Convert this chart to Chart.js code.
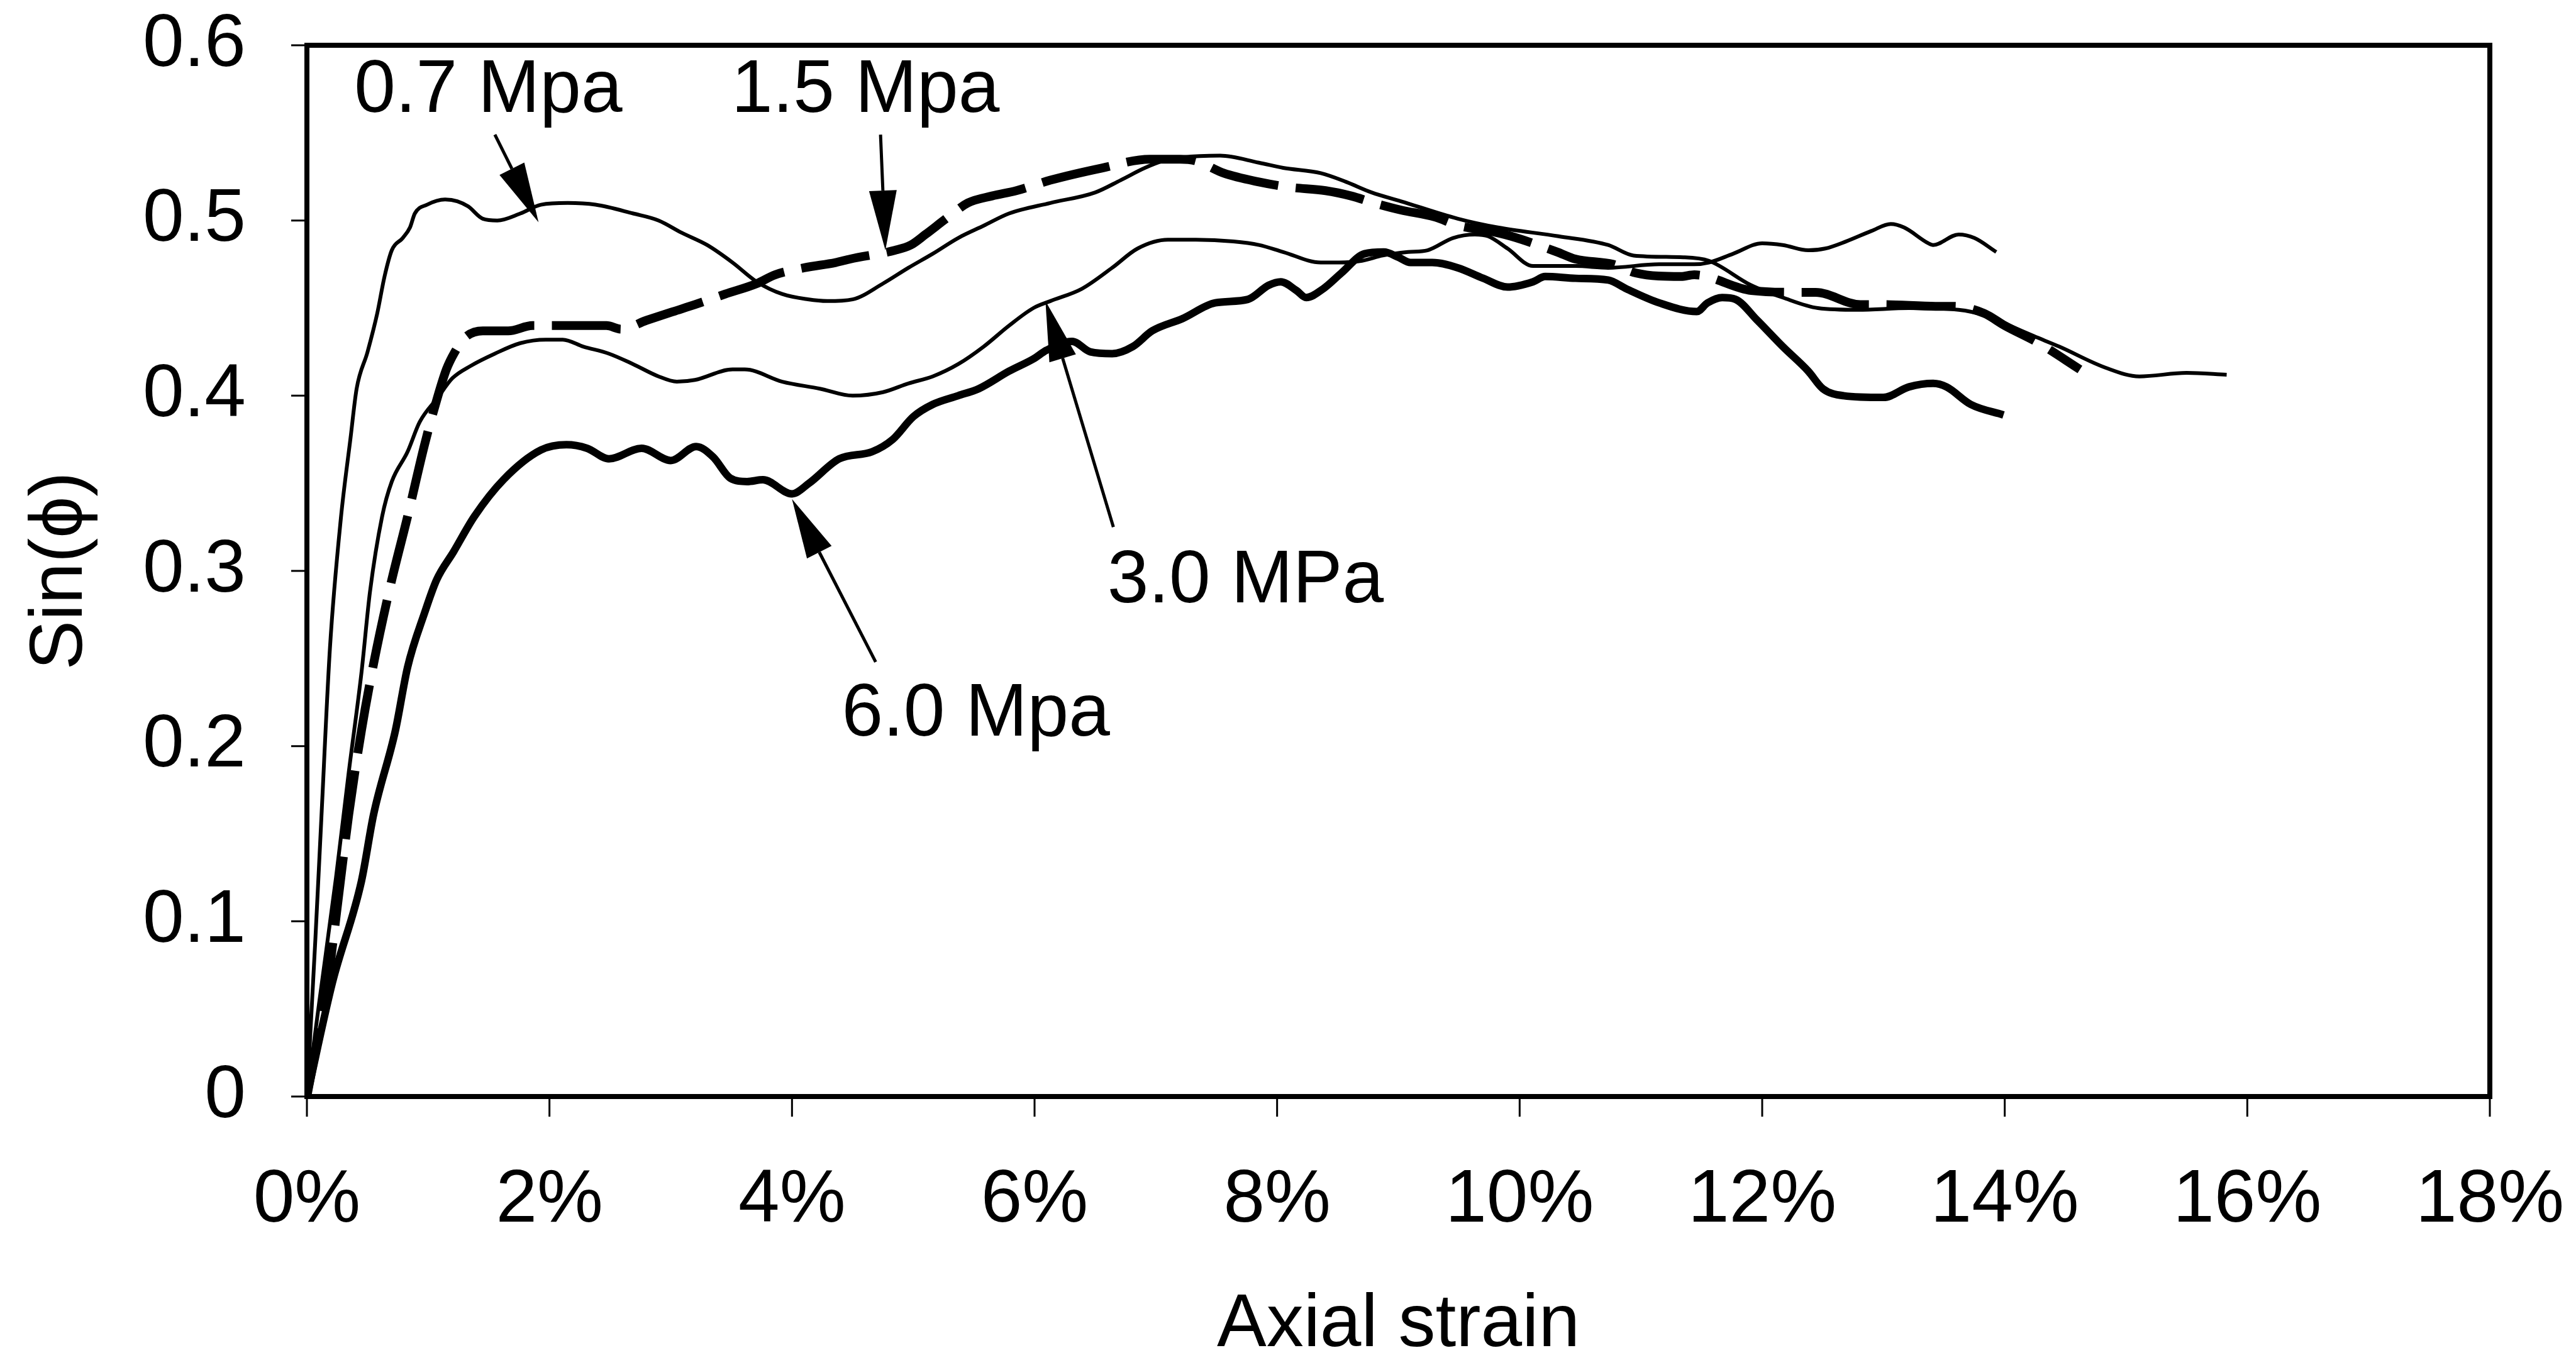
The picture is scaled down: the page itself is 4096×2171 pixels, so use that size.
<!DOCTYPE html>
<html>
<head>
<meta charset="utf-8">
<script src="https://cdn.jsdelivr.net/npm/chart.js@4.4.1/dist/chart.umd.min.js"></script>
<style>
  html, body { margin: 0; padding: 0; background: #fff; }
  #wrap { width: 4096px; height: 2171px; position: relative; }
</style>
</head>
<body>
<div id="wrap"><canvas id="chart-sin"></canvas></div>
<script>
// values: axial strain in %, sin(phi)
const strain07 = [0, 0.07, 0.12, 0.19, 0.28, 0.36, 0.41, 0.5, 0.58, 0.64, 0.7, 0.79, 0.85, 0.89, 0.99, 1.14, 1.24, 1.33, 1.45, 1.57, 1.76, 1.93, 2.15, 2.38, 2.69, 2.9, 3.09, 3.3, 3.51, 3.71, 3.92, 4.13, 4.29, 4.5, 4.75, 4.96, 5.16, 5.37, 5.58, 5.79, 6.13, 6.5, 6.71, 6.91, 7.06, 7.22, 7.53, 7.85, 8.05, 8.36, 8.57, 8.78, 9.02, 9.49, 9.82, 10.32, 10.73, 10.94, 11.35, 11.56, 11.91, 12.17, 12.46, 12.79, 13.21, 13.62, 13.83, 14.04, 14.24, 14.45, 14.83, 15.11, 15.5, 15.83];
const sin07 = [0, 0.09, 0.16, 0.256, 0.33, 0.376, 0.404, 0.425, 0.447, 0.468, 0.483, 0.49, 0.496, 0.504, 0.509, 0.512, 0.511, 0.508, 0.501, 0.5, 0.504, 0.509, 0.51, 0.509, 0.504, 0.5, 0.493, 0.486, 0.476, 0.465, 0.458, 0.455, 0.454, 0.455, 0.464, 0.473, 0.481, 0.49, 0.497, 0.504, 0.51, 0.516, 0.523, 0.53, 0.534, 0.536, 0.537, 0.533, 0.53, 0.527, 0.522, 0.516, 0.511, 0.501, 0.496, 0.491, 0.486, 0.48, 0.479, 0.477, 0.463, 0.456, 0.45, 0.449, 0.45, 0.449, 0.446, 0.44, 0.434, 0.428, 0.416, 0.411, 0.413, 0.412];

const strain15 = [0, 0.17, 0.28, 0.345, 0.45, 0.55, 0.69, 0.83, 0.97, 1.06, 1.15, 1.22, 1.3, 1.45, 1.66, 1.86, 2.2, 2.47, 2.59, 2.8, 3.02, 3.2, 3.45, 3.71, 3.86, 4.1, 4.36, 4.48, 4.85, 4.98, 5.1, 5.27, 5.45, 5.65, 5.85, 6.13, 6.56, 6.95, 7.2, 7.33, 7.56, 7.85, 8.1, 8.4, 8.61, 8.8, 9.02, 9.3, 9.5, 9.75, 9.93, 10.31, 10.46, 10.77, 10.96, 11.33, 11.44, 11.91, 12.3, 12.44, 12.81, 13.0, 13.43, 13.58, 13.83, 14.0, 14.28, 14.62];
const sin15 = [0, 0.065, 0.125, 0.161, 0.209, 0.247, 0.292, 0.331, 0.372, 0.395, 0.415, 0.425, 0.433, 0.437, 0.437, 0.44, 0.44, 0.44, 0.438, 0.443, 0.448, 0.452, 0.458, 0.464, 0.469, 0.473, 0.476, 0.478, 0.483, 0.486, 0.492, 0.501, 0.51, 0.514, 0.517, 0.523, 0.53, 0.535, 0.535, 0.534, 0.527, 0.522, 0.519, 0.517, 0.514, 0.51, 0.506, 0.502, 0.497, 0.494, 0.491, 0.482, 0.478, 0.475, 0.47, 0.468, 0.469, 0.46, 0.459, 0.459, 0.452, 0.452, 0.451, 0.451, 0.447, 0.44, 0.43, 0.415];

const strain30 = [0, 0.1, 0.24, 0.345, 0.45, 0.52, 0.62, 0.7, 0.83, 0.93, 1.08, 1.2, 1.35, 1.55, 1.76, 1.97, 2.11, 2.28, 2.49, 2.69, 2.9, 3.05, 3.2, 3.51, 3.61, 3.92, 4.23, 4.5, 4.75, 4.96, 5.16, 5.37, 5.58, 5.79, 5.99, 6.13, 6.39, 6.64, 6.85, 7.1, 7.33, 7.64, 7.85, 8.05, 8.36, 8.51, 8.7, 8.87, 9.08, 9.24, 9.45, 9.63, 9.74, 9.9, 10.11, 10.46, 10.73, 11.15, 11.44, 11.56, 11.76, 12.0, 12.17, 12.38, 12.52, 12.69, 12.9, 13.06, 13.17, 13.37, 13.41, 13.62, 13.75, 13.93];
const sin30 = [0, 0.053, 0.125, 0.185, 0.242, 0.288, 0.331, 0.351, 0.368, 0.385, 0.399, 0.41, 0.417, 0.424, 0.43, 0.432, 0.432, 0.428, 0.424, 0.418, 0.411, 0.408, 0.409, 0.415, 0.415, 0.408, 0.404, 0.4, 0.402, 0.407, 0.411, 0.418, 0.428, 0.44, 0.45, 0.454, 0.461, 0.473, 0.484, 0.489, 0.489, 0.488, 0.486, 0.482, 0.476, 0.476, 0.477, 0.48, 0.482, 0.483, 0.49, 0.492, 0.491, 0.484, 0.474, 0.474, 0.473, 0.475, 0.475, 0.476, 0.481, 0.487, 0.486, 0.483, 0.484, 0.488, 0.494, 0.498, 0.496, 0.487, 0.486, 0.492, 0.49, 0.482];

const strain60 = [0, 0.21, 0.45, 0.55, 0.73, 0.83, 0.97, 1.07, 1.21, 1.38, 1.62, 1.93, 2.14, 2.31, 2.49, 2.76, 3.0, 3.21, 3.35, 3.49, 3.63, 3.76, 4.0, 4.14, 4.39, 4.66, 4.83, 5.0, 5.16, 5.37, 5.54, 5.79, 5.99, 6.1, 6.31, 6.46, 6.64, 6.81, 6.97, 7.22, 7.49, 7.76, 7.93, 8.03, 8.16, 8.24, 8.38, 8.53, 8.72, 8.88, 9.0, 9.1, 9.28, 9.49, 9.7, 9.9, 10.11, 10.21, 10.46, 10.73, 10.88, 11.15, 11.46, 11.55, 11.67, 11.78, 11.96, 12.17, 12.38, 12.5, 12.67, 13.0, 13.21, 13.41, 13.52, 13.72, 13.99];
const sin60 = [0, 0.065, 0.123, 0.161, 0.209, 0.245, 0.276, 0.295, 0.311, 0.331, 0.352, 0.369, 0.372, 0.37, 0.364, 0.37, 0.363, 0.371, 0.365, 0.353, 0.351, 0.352, 0.344, 0.35, 0.364, 0.368, 0.375, 0.388, 0.395, 0.4, 0.404, 0.414, 0.421, 0.426, 0.431, 0.425, 0.424, 0.428, 0.437, 0.444, 0.453, 0.455, 0.463, 0.465, 0.46, 0.456, 0.461, 0.47, 0.481, 0.482, 0.479, 0.476, 0.476, 0.473, 0.467, 0.462, 0.465, 0.468, 0.467, 0.466, 0.461, 0.453, 0.448, 0.453, 0.456, 0.455, 0.443, 0.428, 0.414, 0.404, 0.4, 0.399, 0.405, 0.407, 0.405, 0.395, 0.389];

const xTicks = [0, 2, 4, 6, 8, 10, 12, 14, 16, 18];
const yTicks = [0, 0.1, 0.2, 0.3, 0.4, 0.5, 0.6];

// callout texts and arrows, in data units
const noteText = ['0.7 Mpa', '1.5 Mpa', '3.0 MPa', '6.0 Mpa'];
const noteAt = [[0.39, 0.562], [3.50, 0.562], [6.6, 0.282], [4.41, 0.206]];
const arrowFrom = [[1.55, 0.549], [4.73, 0.549], [6.65, 0.325], [4.69, 0.248]];
const arrowTo = [[1.91, 0.499], [4.77, 0.483], [6.09, 0.454], [4.0, 0.341]];

const FONT = "'Liberation Sans', Arial, sans-serif";

function pts(xs, ys) {
  return xs.map((x, i) => ({ x: x, y: ys[i] }));
}

const frameAndNotes = {
  id: 'frameAndNotes',
  afterDraw(chart) {
    const ctx = chart.ctx;
    const a = chart.chartArea;
    const sx = chart.scales.x, sy = chart.scales.y;
    ctx.save();
    ctx.strokeStyle = '#000';
    ctx.lineWidth = 8;
    ctx.beginPath();
    ctx.moveTo(a.left - 4, a.top);
    ctx.lineTo(a.right, a.top);
    ctx.lineTo(a.right, a.bottom + 4);
    ctx.stroke();

    // short tick marks outside the axes
    ctx.lineWidth = 3;
    ctx.beginPath();
    xTicks.forEach(v => {
      const px = sx.getPixelForValue(v);
      ctx.moveTo(px, a.bottom);
      ctx.lineTo(px, a.bottom + 32);
    });
    yTicks.forEach(v => {
      const py = sy.getPixelForValue(v);
      ctx.moveTo(a.left, py);
      ctx.lineTo(a.left - 25, py);
    });
    ctx.stroke();

    ctx.fillStyle = '#000';
    ctx.font = '118px ' + FONT;
    ctx.textAlign = 'left';
    ctx.textBaseline = 'alphabetic';
    for (let i = 0; i < noteText.length; i++) {
      ctx.fillText(noteText[i], sx.getPixelForValue(noteAt[i][0]), sy.getPixelForValue(noteAt[i][1]));
    }

    ctx.lineWidth = 5;
    for (let i = 0; i < arrowFrom.length; i++) {
      const x1 = sx.getPixelForValue(arrowFrom[i][0]), y1 = sy.getPixelForValue(arrowFrom[i][1]);
      const x2 = sx.getPixelForValue(arrowTo[i][0]), y2 = sy.getPixelForValue(arrowTo[i][1]);
      const ang = Math.atan2(y2 - y1, x2 - x1);
      const hl = 95, hw = 22;
      const bx = x2 - hl * Math.cos(ang), by = y2 - hl * Math.sin(ang);
      ctx.beginPath();
      ctx.moveTo(x1, y1);
      ctx.lineTo(bx, by);
      ctx.stroke();
      ctx.beginPath();
      ctx.moveTo(x2, y2);
      ctx.lineTo(bx + hw * Math.sin(ang), by - hw * Math.cos(ang));
      ctx.lineTo(bx - hw * Math.sin(ang), by + hw * Math.cos(ang));
      ctx.closePath();
      ctx.fill();
    }
    ctx.restore();
  }
};

var ctx1 = document.getElementById('chart-sin').getContext('2d');
new Chart(ctx1, {
  type: 'scatter',
  data: {
    datasets: [{
      label: '0.7 Mpa',
      data: pts(strain07, sin07),
      showLine: true,
      borderColor: '#000',
      borderWidth: 6,
      pointRadius: 0,
      cubicInterpolationMode: 'monotone'
    }, {
      label: '1.5 Mpa',
      data: pts(strain15, sin15),
      showLine: true,
      borderColor: '#000',
      borderWidth: 14,
      borderDash: [110, 28],
      borderCapStyle: 'butt',
      pointRadius: 0,
      cubicInterpolationMode: 'monotone'
    }, {
      label: '3.0 MPa',
      data: pts(strain30, sin30),
      showLine: true,
      borderColor: '#000',
      borderWidth: 6,
      pointRadius: 0,
      cubicInterpolationMode: 'monotone'
    }, {
      label: '6.0 Mpa',
      data: pts(strain60, sin60),
      showLine: true,
      borderColor: '#000',
      borderWidth: 12,
      pointRadius: 0,
      cubicInterpolationMode: 'monotone'
    }]
  },
  options: {
    responsive: true,
    maintainAspectRatio: false,
    animation: false,
    layout: { padding: { left: 0, right: 137, top: 72, bottom: 0 } },
    plugins: {
      legend: { display: false },
      tooltip: { enabled: false }
    },
    scales: {
      x: {
        type: 'linear',
        min: 0,
        max: 18,
        afterFit: function (scale) { scale.height = 427; },
        afterBuildTicks: function (scale) { scale.ticks = xTicks.map(v => ({ value: v })); },
        border: { display: true, color: '#000', width: 8 },
        // tick space kept by a hidden tick; the short visible ticks are drawn by the plugin
        grid: { display: true, drawOnChartArea: false, drawTicks: true, tickLength: 96, tickColor: 'rgba(0,0,0,0)', color: 'rgba(0,0,0,0)' },
        ticks: {
          color: '#000',
          padding: 0,
          maxRotation: 0,
          font: { size: 118, family: FONT, lineHeight: 1.2 },
          callback: function (v) { return v + '%'; }
        },
        title: {
          display: true,
          text: 'Axial strain',
          color: '#000',
          padding: { top: 0, bottom: 4 },
          font: { size: 118, family: FONT, lineHeight: 1 }
        }
      },
      y: {
        type: 'linear',
        min: 0,
        max: 0.6,
        afterFit: function (scale) { scale.width = 488; },
        afterBuildTicks: function (scale) { scale.ticks = yTicks.map(v => ({ value: v })); },
        border: { display: true, color: '#000', width: 8 },
        grid: { display: true, drawOnChartArea: false, drawTicks: true, tickLength: 97, tickColor: 'rgba(0,0,0,0)', color: 'rgba(0,0,0,0)' },
        ticks: {
          color: '#000',
          padding: 0,
          font: { size: 118, family: FONT, lineHeight: 1 },
          callback: function (v) { return v === 0 ? '0' : v.toFixed(1); }
        },
        title: {
          display: true,
          text: 'Sin(\u03D5)',
          color: '#000',
          padding: { top: 38, bottom: 0 },
          font: { size: 118, family: FONT, lineHeight: 1 }
        }
      }
    }
  },
  plugins: [frameAndNotes]
});
</script>
</body>
</html>
